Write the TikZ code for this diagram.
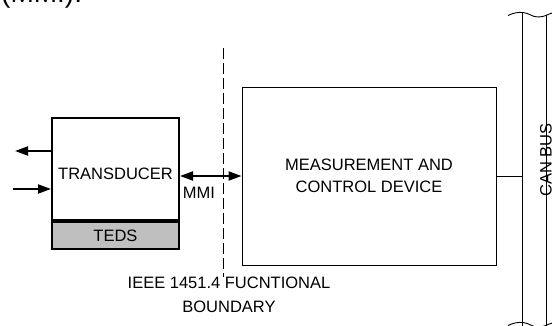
\documentclass[tikz,border=0pt]{standalone}
\usepackage{fontspec}
\setmainfont{Liberation Sans}
\usetikzlibrary{arrows.meta, positioning}
\tikzset{
  tbox/.style={rectangle, draw, line width=2pt, minimum width=127pt,
               minimum height=102pt, inner sep=0pt},
  dbox/.style={rectangle, draw, line width=2pt, fill=black!25,
               minimum width=127pt, minimum height=27pt, inner sep=0pt,
               font=\fontsize{16.5}{19}\selectfont},
  mbox/.style={rectangle, draw, line width=0.9pt, minimum width=254pt,
               minimum height=178pt, align=center,
               font=\fontsize{16.5}{22}\selectfont},
  lbl/.style={font=\fontsize{16.5}{23.5}\selectfont, align=center, inner sep=0pt},
  tarr/.style={-{Triangle[length=13pt, width=9pt]}, line width=2pt},
  darr/.style={{Triangle[length=13pt, width=9pt]}-{Triangle[length=13pt, width=9pt]},
               line width=2pt},
  bline/.style={line width=0.9pt},
  bdash/.style={line width=1pt, dash pattern=on 11pt off 4pt}
}
\begin{document}
\begin{tikzpicture}[x=1pt, y=-1pt]
  \useasboundingbox (0,0) rectangle (552,325);

  %% -- Clipped caption fragment --
  \begin{scope}
    \clip (0,0) rectangle (552,325);
    \node[anchor=base west, inner sep=0pt, font=\fontsize{28}{28}\selectfont]
      (capt) at (1,2.5) {(MMI).};
  \end{scope}

  %% -- Transducer side --
  \node[tbox, label={[lbl, yshift=-5pt]center:TRANSDUCER}] (trans) at (115.5,169) {};
  \node[dbox, below=0pt of trans] (teds) {TEDS};

  %% -- Measurement and control device --
  \node[mbox] (meas) at (369,176) {MEASUREMENT AND\\CONTROL DEVICE};

  %% -- Functional boundary --
  \coordinate (bndtop) at (223,48);
  \coordinate (bndbot) at (223,277);
  \draw[bdash] (bndtop) -- (bndbot);
  \node[lbl] (bnd) at (229,295) {IEEE 1451.4 FUCNTIONAL\\BOUNDARY};

  %% -- CAN bus --
  \coordinate (busLtop) at (522,12.5);
  \coordinate (busLbot) at (522,326);
  \coordinate (busRtop) at (546,14.5);
  \coordinate (busRbot) at (546,326);
  \coordinate (busL) at (522,176);
  \draw[bline] (busLtop) -- (busLbot);
  \draw[bline] (busRtop) -- (busRbot);
  \draw[bline] (508,15.5) .. controls (513,13) and (518,12) .. (523,12.5)
    .. controls (529,13) and (532,17) .. (538,17)
    .. controls (545,17) and (548,14) .. (552,13);
  \draw[bline] (508,325.5) .. controls (513,323) and (518,322) .. (523,322.5)
    .. controls (529,323) and (532,327) .. (538,327)
    .. controls (545,327) and (548,324) .. (552,323);
  \node[lbl, rotate=90] (can) at (546,160) {CAN BUS};

  %% -- Signals --
  \coordinate (sigout) at (15,151);
  \coordinate (sigin) at (13,189);
  \draw[tarr] (trans.west |- sigout) -- (sigout);
  \draw[tarr] (sigin) -- (trans.west |- sigin);

  %% -- Interface arrows --
  \draw[darr] (trans.east |- meas.west) -- (meas.west);
  \node[lbl] (mmi) at (199,193) {MMI};
  \draw[bline] (meas.east) -- (busL);
\end{tikzpicture}
\end{document}
